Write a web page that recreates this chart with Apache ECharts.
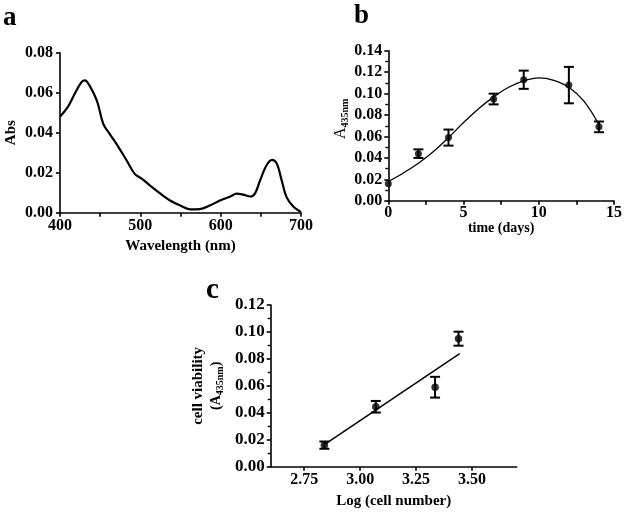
<!DOCTYPE html>
<html>
<head>
<meta charset="utf-8">
<script src="https://cdn.jsdelivr.net/npm/echarts@6/dist/echarts.min.js"></script>
<style>
html,body{margin:0;padding:0;background:#fff;}
#chart{width:625px;height:513px;}
</style>
</head>
<body>
<div id="chart"></div>
<script>
// ---- Panel a: absorption spectrum ----
const specWavelength = [400,410,419,427,431,437,446,454,462,473,483,493,502,512,525,537,549,562,574,587,599,612,620,628,637,643,649,657,664,670,676,682,691,700];
const specAbs = [0.0480,0.0530,0.0600,0.0654,0.0662,0.0634,0.0559,0.0443,0.0393,0.0327,0.0261,0.0194,0.0169,0.0136,0.0095,0.0061,0.0037,0.0017,0.0018,0.0037,0.0061,0.0081,0.0095,0.0090,0.0081,0.0098,0.0161,0.0236,0.0264,0.0244,0.0161,0.0078,0.0028,0.0003];
const aXTicks = [400,500,600,700];
const aYTicks = [0.00,0.02,0.04,0.06,0.08];

// ---- Panel b: A435 vs time ----
const timeDays = [0,2,4,7,9,12,14];
const timeMean = [0.016,0.044,0.059,0.095,0.113,0.108,0.069];
const timeErr  = [0.000,0.004,0.0075,0.005,0.0085,0.017,0.005];
const fitTime = [0,1,2,3,4,5,6,7,8,9,10,11,12,13,14];
const fitA    = [0.018,0.026,0.035,0.046,0.059,0.073,0.086,0.097,0.106,0.112,0.1148,0.1125,0.106,0.093,0.071];
const bXTicks = [0,5,10,15];
const bYTicks = [0.00,0.02,0.04,0.06,0.08,0.10,0.12,0.14];

// ---- Panel c: cell viability vs log cell number ----
const logCells = [2.84,3.07,3.335,3.44];
const viability = [0.016,0.0445,0.059,0.095];
const viabilityErr = [0.0027,0.0043,0.0077,0.0052];
const fitLogX = [2.845,3.445];
const fitViab = [0.017,0.084];
const cXTicks = [2.75,3.00,3.25,3.50];
const cYTicks = [0.00,0.02,0.04,0.06,0.08,0.10,0.12];

const FONT = 'Liberation Serif';
const INK = '#000';

const chart = echarts.init(document.getElementById('chart'), null, {renderer:'canvas'});

function zip(xs, ys){ return xs.map((x,i)=>[x, ys[i]]); }
function zip3(xs, ys, es){ return xs.map((x,i)=>[x, ys[i], es[i]]); }

function errRender(capHalf){
  return function(params, api){
    const x = api.value(0), y = api.value(1), e = api.value(2);
    if (!e) return null;
    const t = api.coord([x, y + e]);
    const b = api.coord([x, y - e]);
    const st = {stroke: INK, lineWidth: 2};
    return {type:'group', children:[
      {type:'line', shape:{x1:t[0], y1:t[1], x2:b[0], y2:b[1]}, style:st},
      {type:'line', shape:{x1:t[0]-capHalf, y1:t[1], x2:t[0]+capHalf, y2:t[1]}, style:st},
      {type:'line', shape:{x1:b[0]-capHalf, y1:b[1], x2:b[0]+capHalf, y2:b[1]}, style:st}
    ]};
  };
}

const axisLineStyle = {show:true, lineStyle:{color:INK, width:1.6}};
function lbl(size, margin, fmt){
  return {color:INK, fontFamily:FONT, fontWeight:'bold', fontSize:size, margin:margin, formatter:fmt};
}

const option = {
  animation:false,
  backgroundColor:'#fff',
  grid:[
    {left:60, top:52.7, width:241, height:160},
    {left:388.3, top:50.8, width:225.7, height:150},
    {left:270.7, top:305, width:246, height:161.7}
  ],
  xAxis:[
    {type:'value', gridIndex:0, min:400, max:700, interval:100,
     axisLine:axisLineStyle, splitLine:{show:false},
     axisTick:{show:true, length:4, lineStyle:{color:INK, width:1.6}},
     minorTick:{show:true, splitNumber:2, length:4, lineStyle:{color:INK, width:1.6}},
     axisLabel:lbl(16, 5, v=>String(v)),
     name:'Wavelength (nm)', nameLocation:'middle', nameGap:26,
     nameTextStyle:{color:INK, fontFamily:FONT, fontWeight:'bold', fontSize:15}},
    {type:'value', gridIndex:1, min:0, max:15, interval:5,
     axisLine:axisLineStyle, splitLine:{show:false},
     axisTick:{show:true, length:4, lineStyle:{color:INK, width:1.6}},
     minorTick:{show:true, splitNumber:2, length:4, lineStyle:{color:INK, width:1.6}},
     axisLabel:lbl(16, 4, v=>String(v)),
     name:'time (days)', nameLocation:'middle', nameGap:21,
     nameTextStyle:{color:INK, fontFamily:FONT, fontWeight:'bold', fontSize:14}},
    {type:'value', gridIndex:2, min:2.6, max:3.7,
     axisLine:axisLineStyle, splitLine:{show:false},
     axisTick:{show:true, length:4, customValues:cXTicks, lineStyle:{color:INK, width:1.6}},
     axisLabel:Object.assign(lbl(16, 5, v=>Number(v).toFixed(2)), {customValues:cXTicks}),
     name:'Log (cell number)', nameLocation:'middle', nameGap:27,
     nameTextStyle:{color:INK, fontFamily:FONT, fontWeight:'bold', fontSize:15}}
  ],
  yAxis:[
    {type:'value', gridIndex:0, min:0, max:0.08, interval:0.02,
     axisLine:axisLineStyle, splitLine:{show:false},
     axisTick:{show:true, length:4, lineStyle:{color:INK, width:1.6}},
     axisLabel:lbl(16, 7, v=>Number(v).toFixed(2)),
     name:'Abs', nameLocation:'middle', nameGap:41,
     nameTextStyle:{color:INK, fontFamily:FONT, fontWeight:'bold', fontSize:15}},
    {type:'value', gridIndex:1, min:0, max:0.14, interval:0.02,
     axisLine:axisLineStyle, splitLine:{show:false},
     axisTick:{show:true, length:4, lineStyle:{color:INK, width:1.6}},
     minorTick:{show:true, splitNumber:2, length:3, lineStyle:{color:INK, width:1.4}},
     axisLabel:lbl(16, 6, v=>Number(v).toFixed(2)),
     name:'{a|A}{s|435nm}', nameLocation:'middle', nameGap:38,
     nameTextStyle:{color:INK, fontFamily:FONT, padding:[0,0,0,14], rich:{
       a:{fontFamily:FONT, fontSize:16, color:INK, lineHeight:18, verticalAlign:'bottom'},
       s:{fontFamily:FONT, fontWeight:'bold', fontSize:10, color:INK, lineHeight:14, verticalAlign:'bottom', padding:[0,0,-2,0]}
     }}},
    {type:'value', gridIndex:2, min:0, max:0.12, interval:0.02,
     axisLine:axisLineStyle, splitLine:{show:false},
     axisTick:{show:true, length:4, lineStyle:{color:INK, width:1.6}},
     minorTick:{show:true, splitNumber:2, length:3, lineStyle:{color:INK, width:1.4}},
     axisLabel:lbl(17, 6, v=>Number(v).toFixed(2)),
     name:'cell viability\n{a|(A}{s|435nm}{a|)}', nameLocation:'middle', nameGap:47,
     nameTextStyle:{color:INK, fontFamily:FONT, fontWeight:'bold', fontSize:15, lineHeight:17, rich:{
       a:{fontFamily:FONT, fontWeight:'bold', fontSize:14, color:INK, lineHeight:17, verticalAlign:'bottom'},
       s:{fontFamily:FONT, fontWeight:'bold', fontSize:10, color:INK, lineHeight:14, verticalAlign:'bottom', padding:[0,0,-2,0]}
     }}}
  ],
  series:[
    {type:'line', xAxisIndex:0, yAxisIndex:0, data:zip(specWavelength, specAbs),
     smooth:0.35, showSymbol:false, symbol:'none', lineStyle:{color:INK, width:2.2}, z:3},
    {type:'line', xAxisIndex:1, yAxisIndex:1, data:zip(fitTime, fitA),
     smooth:0.4, showSymbol:false, symbol:'none', lineStyle:{color:INK, width:1.3}, z:2},
    {type:'custom', xAxisIndex:1, yAxisIndex:1, data:zip3(timeDays, timeMean, timeErr),
     renderItem:errRender(5), encode:{x:0, y:1}, z:3},
    {type:'scatter', xAxisIndex:1, yAxisIndex:1, data:zip(timeDays, timeMean),
     symbol:'circle', symbolSize:7, itemStyle:{color:INK}, z:4},
    {type:'line', xAxisIndex:2, yAxisIndex:2, data:zip(fitLogX, fitViab),
     showSymbol:false, symbol:'none', lineStyle:{color:INK, width:1.5}, z:2},
    {type:'custom', xAxisIndex:2, yAxisIndex:2, data:zip3(logCells, viability, viabilityErr),
     renderItem:errRender(5), encode:{x:0, y:1}, z:3},
    {type:'scatter', xAxisIndex:2, yAxisIndex:2, data:zip(logCells, viability),
     symbol:'circle', symbolSize:7.5, itemStyle:{color:INK}, z:4}
  ],
  graphic:[
    {type:'text', left:3, top:5, style:{text:'a', fontFamily:FONT, fontWeight:'bold', fontSize:27, fill:INK}},
    {type:'text', left:354, top:3, style:{text:'b', fontFamily:FONT, fontWeight:'bold', fontSize:27, fill:INK}},
    {type:'text', left:206, top:276, style:{text:'c', fontFamily:FONT, fontWeight:'bold', fontSize:29, fill:INK}}
  ]
};
chart.setOption(option);
</script>
</body>
</html>
